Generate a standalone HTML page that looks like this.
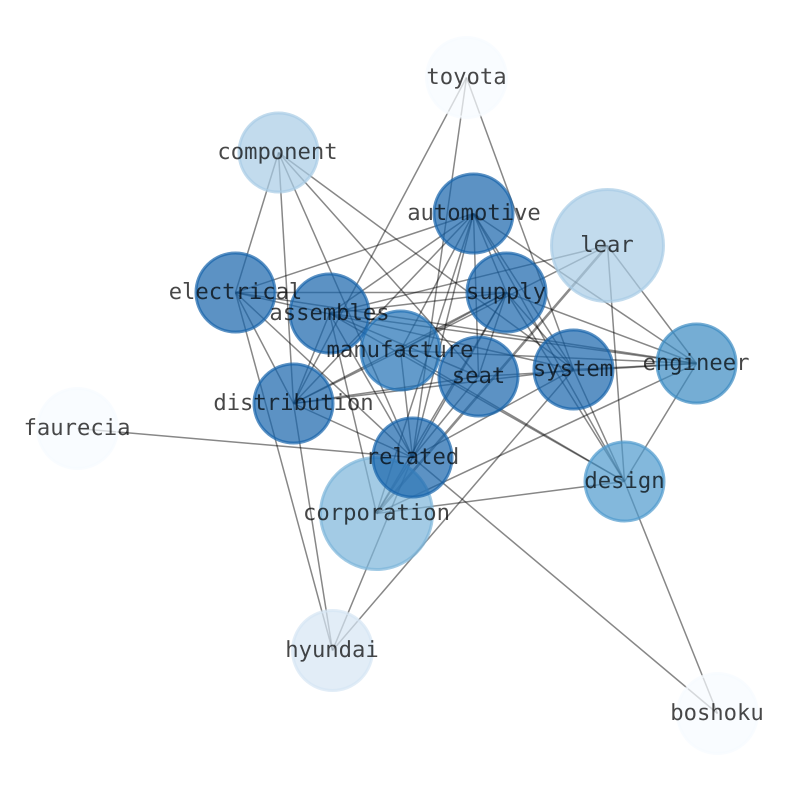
<!DOCTYPE html>
<html><head><meta charset="utf-8"><style>
html,body{margin:0;padding:0;background:#fff}
svg{display:block}
text{font-family:"DejaVu Sans Mono","Liberation Mono",monospace;font-size:22.2px;fill:#000;fill-opacity:.72;text-anchor:middle;text-rendering:geometricPrecision}
.e line{stroke:#000;stroke-opacity:.47;stroke-width:1.5}
.t line{stroke:#000;stroke-opacity:.45;stroke-width:2.6}
circle{stroke-width:3;fill-opacity:.7;stroke-opacity:.7}
</style></head><body>
<svg width="794" height="790" viewBox="0 0 794 790" xmlns="http://www.w3.org/2000/svg">
<g transform="translate(0.5,0.5)">
<g class="e">
<line x1="466" y1="77" x2="293" y2="403"/><line x1="466" y1="77" x2="412" y2="457"/><line x1="466" y1="77" x2="573" y2="369"/>
<line x1="278" y1="152" x2="235" y2="292"/><line x1="278" y1="152" x2="293" y2="403"/><line x1="278" y1="152" x2="412" y2="457"/><line x1="278" y1="152" x2="478" y2="376"/><line x1="278" y1="152" x2="573" y2="369"/>
<line x1="473" y1="213" x2="235" y2="292"/><line x1="473" y1="213" x2="329" y2="313"/><line x1="473" y1="213" x2="400" y2="350"/><line x1="473" y1="213" x2="293" y2="403"/><line x1="473" y1="213" x2="412" y2="457"/><line x1="473" y1="213" x2="376" y2="513"/><line x1="473" y1="213" x2="478" y2="376"/><line x1="473" y1="213" x2="573" y2="369"/><line x1="473" y1="213" x2="624" y2="481"/><line x1="473" y1="213" x2="696" y2="363"/><line x1="473" y1="213" x2="506" y2="292"/>
<line x1="506" y1="292" x2="235" y2="292"/><line x1="506" y1="292" x2="329" y2="313"/><line x1="506" y1="292" x2="293" y2="403"/><line x1="506" y1="292" x2="400" y2="350"/><line x1="506" y1="292" x2="412" y2="457"/><line x1="506" y1="292" x2="478" y2="376"/><line x1="506" y1="292" x2="573" y2="369"/><line x1="506" y1="292" x2="624" y2="481"/><line x1="506" y1="292" x2="696" y2="363"/><line x1="506" y1="292" x2="376" y2="513"/>
<line x1="607" y1="245" x2="329" y2="313"/><line x1="607" y1="245" x2="400" y2="350"/><line x1="607" y1="245" x2="696" y2="363"/><line x1="607" y1="245" x2="624" y2="481"/>
<line x1="235" y1="292" x2="573" y2="369"/><line x1="235" y1="292" x2="696" y2="363"/><line x1="235" y1="292" x2="293" y2="403"/><line x1="235" y1="292" x2="412" y2="457"/><line x1="235" y1="292" x2="332" y2="650"/>
<line x1="329" y1="313" x2="478" y2="376"/><line x1="329" y1="313" x2="696" y2="363"/><line x1="329" y1="313" x2="624" y2="481"/><line x1="329" y1="313" x2="293" y2="403"/><line x1="329" y1="313" x2="412" y2="457"/><line x1="329" y1="313" x2="376" y2="513"/>
<line x1="400" y1="350" x2="696" y2="363"/><line x1="400" y1="350" x2="293" y2="403"/><line x1="400" y1="350" x2="412" y2="457"/><line x1="400" y1="350" x2="624" y2="481"/>
<line x1="478" y1="376" x2="293" y2="403"/><line x1="478" y1="376" x2="696" y2="363"/><line x1="478" y1="376" x2="412" y2="457"/>
<line x1="573" y1="369" x2="293" y2="403"/><line x1="573" y1="369" x2="696" y2="363"/><line x1="573" y1="369" x2="624" y2="481"/><line x1="573" y1="369" x2="412" y2="457"/><line x1="573" y1="369" x2="332" y2="650"/>
<line x1="696" y1="363" x2="624" y2="481"/><line x1="696" y1="363" x2="376" y2="513"/>
<line x1="293" y1="403" x2="412" y2="457"/><line x1="293" y1="403" x2="332" y2="650"/>
<line x1="77" y1="428" x2="412" y2="457"/>
<line x1="412" y1="457" x2="717" y2="713"/><line x1="412" y1="457" x2="376" y2="513"/><line x1="412" y1="457" x2="332" y2="650"/>
<line x1="624" y1="481" x2="376" y2="513"/><line x1="624" y1="481" x2="717" y2="713"/>
</g>
<g class="t">
<line x1="607" y1="245" x2="376" y2="513"/>
</g>
<g>
<circle cx="466" cy="77" r="40" fill="#f7fbff" stroke="#f7fbff"/>
<circle cx="77" cy="428" r="40" fill="#f7fbff" stroke="#f7fbff"/>
<circle cx="717" cy="713" r="40" fill="#f7fbff" stroke="#f7fbff"/>
<circle cx="332" cy="650" r="40" fill="#d6e5f4" stroke="#d6e5f4"/>
<circle cx="278" cy="152" r="39.5" fill="#a8cce5" stroke="#a8cce5"/>
<circle cx="607" cy="245" r="56" fill="#a8cce5" stroke="#a8cce5"/>
<circle cx="376" cy="513" r="56" fill="#7cb5da" stroke="#7cb5da"/>
<circle cx="624" cy="481" r="39.5" fill="#4f9acd" stroke="#4f9acd"/>
<circle cx="696" cy="363" r="39.5" fill="#3a8ac2" stroke="#3a8ac2"/>
<circle cx="400" cy="350" r="39.5" fill="#2171b5" stroke="#2171b5"/>
<circle cx="473" cy="213" r="39.5" fill="#1764ab" stroke="#1764ab"/>
<circle cx="235" cy="292" r="39.5" fill="#1764ab" stroke="#1764ab"/>
<circle cx="506" cy="292" r="39.5" fill="#1764ab" stroke="#1764ab"/>
<circle cx="329" cy="313" r="39.5" fill="#1764ab" stroke="#1764ab"/>
<circle cx="478" cy="376" r="39.5" fill="#1764ab" stroke="#1764ab"/>
<circle cx="573" cy="369" r="39.5" fill="#1764ab" stroke="#1764ab"/>
<circle cx="293" cy="403" r="39.5" fill="#1764ab" stroke="#1764ab"/>
<circle cx="412" cy="457" r="39.5" fill="#1764ab" stroke="#1764ab"/>
</g>
</g>
<g>
<text x="466.5" y="84">toyota</text>
<text x="277.500" y="159">component</text>
<text x="474" y="220">automotive</text>
<text x="607" y="252">lear</text>
<text x="235.500" y="299">electrical</text>
<text x="506" y="299">supply</text>
<text x="329.500" y="320">assembles</text>
<text x="400" y="357">manufacture</text>
<text x="478.500" y="383">seat</text>
<text x="573" y="376">system</text>
<text x="696" y="370">engineer</text>
<text x="293.500" y="410">distribution</text>
<text x="77" y="435">faurecia</text>
<text x="412.500" y="464">related</text>
<text x="624.500" y="488">design</text>
<text x="376.500" y="520">corporation</text>
<text x="332" y="657">hyundai</text>
<text x="717" y="720">boshoku</text>
</g>
</svg>
</body></html>
